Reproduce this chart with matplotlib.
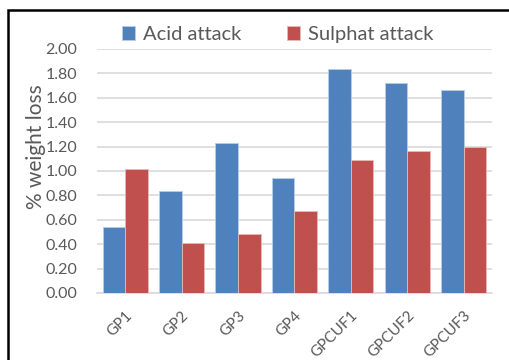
import matplotlib.pyplot as plt
import numpy as np
from matplotlib.patches import Rectangle

plt.rcParams['font.family'] = ['Lato', 'DejaVu Sans']

samples = ['GP1', 'GP2', 'GP3', 'GP4', 'GPCUF1', 'GPCUF2', 'GPCUF3']
acid = [0.54, 0.84, 1.23, 0.94, 1.84, 1.72, 1.66]
sulphat = [1.02, 0.41, 0.48, 0.67, 1.09, 1.16, 1.20]
yticks = [0.0, 0.2, 0.4, 0.6, 0.8, 1.0, 1.2, 1.4, 1.6, 1.8, 2.0]

W, H = 510, 360
fig = plt.figure(figsize=(W / 100, H / 100), dpi=100)
ax = fig.add_axes([97 / W, 1 - 293 / H, (492 - 97) / W, (293 - 49) / H])

grey = '#595959'
x = np.arange(len(samples))
bw = 0.4
ax.bar(x - bw / 2, acid, bw, color='#4F81BD', edgecolor='#B9CDE5', linewidth=0.6,
       label='Acid attack', zorder=3)
ax.bar(x + bw / 2, sulphat, bw, color='#C0504D', edgecolor='#E6B9B8', linewidth=0.6,
       label='Sulphat attack', zorder=3)

ax.set_xlim(-0.5, len(samples) - 0.5)
ax.set_ylim(0, 2.0)
ax.set_yticks(yticks)
ax.set_yticklabels(['%.2f' % v for v in yticks], color=grey, fontsize=11.5)
ax.set_xticks(x)
ax.set_xticklabels(samples, rotation=45, ha='right', rotation_mode='anchor',
                   color=grey, fontsize=11)
ax.tick_params(axis='both', length=0)
ax.tick_params(axis='y', pad=14)
ax.tick_params(axis='x', pad=11)
ax.grid(axis='y', color='#D9D9D9', linewidth=1.2, zorder=0)
for s in ['top', 'right', 'left']:
    ax.spines[s].set_visible(False)
ax.spines['bottom'].set_color('#D9D9D9')
ax.spines['bottom'].set_linewidth(1.2)

ax.set_ylabel('% weight loss', color=grey, fontsize=15)
ax.yaxis.set_label_coords(-0.13, 0.60)

ax.legend(loc='center left', bbox_to_anchor=(0.063, 1.06), ncol=2, frameon=False,
          fontsize=14.5, labelcolor=grey, handlelength=0.65, handleheight=0.65,
          handletextpad=0.4, columnspacing=2.25, borderaxespad=0, borderpad=0)

# outer frame
fig.patches.append(Rectangle((8 / W, -0.05), 1.05, 1 - 10 / H + 0.05,
                             transform=fig.transFigure, fill=False,
                             edgecolor='black', linewidth=1.8))

fig.savefig('out.png', dpi=100)
